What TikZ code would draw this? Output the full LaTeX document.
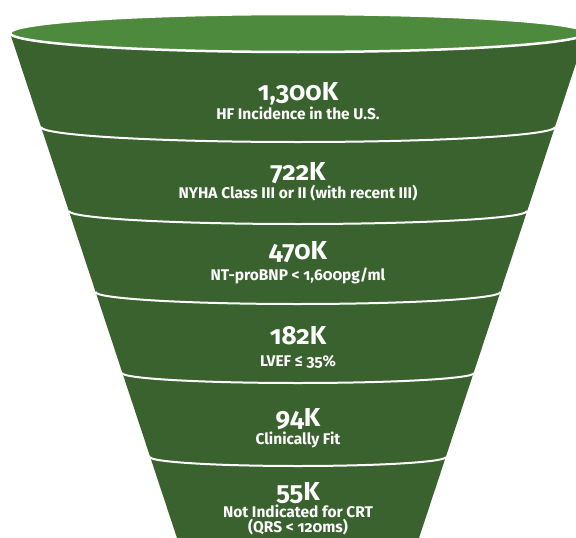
\documentclass[tikz,border=0pt]{standalone}
\usepackage{fontspec}
\setmainfont{Fira Sans}[Numbers=OldStyle]
\definecolor{funnelbody}{HTML}{3A622E}
\definecolor{funneltop}{HTML}{4E8A3E}
\begin{document}
\begin{tikzpicture}[x=1pt,y=-1pt,
  sepline/.style={white, line width=2pt},
  big/.style={white, anchor=base, inner sep=0pt, font=\fontsize{26}{26}\selectfont\bfseries},
  sub/.style={white, anchor=base, inner sep=0pt, font=\fontsize{15.5}{15.5}\selectfont\bfseries}]
\useasboundingbox (0,0) rectangle (576,538);
\clip (0,0) rectangle (576,538);
% funnel body
\fill[funnelbody] (10,33) -- (177,538) -- (419,538) -- (586,33) -- cycle;
% top face
\draw[white, line width=2.5pt, fill=funneltop] (298,33) ellipse [x radius=288pt, y radius=19pt];
% band separators
\draw[sepline] (41,127) arc[start angle=180, end angle=360, x radius=257pt, y radius=15pt];
\draw[sepline] (69,211) arc[start angle=180, end angle=360, x radius=229pt, y radius=13pt];
\draw[sepline] (95.5,292) arc[start angle=180, end angle=360, x radius=202.5pt, y radius=12pt];
\draw[sepline] (122,373) arc[start angle=180, end angle=360, x radius=176pt, y radius=10pt];
\draw[sepline] (150,457) arc[start angle=180, end angle=360, x radius=148pt, y radius=9pt];
% labels
\node[big] (n1) at (298,100) {1,300K};
\node[sub] (s1) at (298,119) {HF Incidence in the U.S.};
\node[big] (n2) at (298,180) {722K};
\node[sub] (s2) at (298,198) {NYHA Class III or II (with recent III)};
\node[big] (n3) at (298,259) {470K};
\node[sub] (s3) at (298,280) {NT-proBNP < 1,600pg/ml};
\node[big] (n4) at (298,344) {182K};
\node[sub] (s4) at (298,366) {LVEF ≤ 35\%};
\node[big] (n5) at (298,426) {94K};
\node[sub] (s5) at (298,444) {Clinically Fit};
\node[big] (n6) at (298,500) {55K};
\node[sub] (s6a) at (298,517) {Not Indicated for CRT};
\node[sub] (s6b) at (298,532) {(QRS < 120ms)};
\end{tikzpicture}
\end{document}
